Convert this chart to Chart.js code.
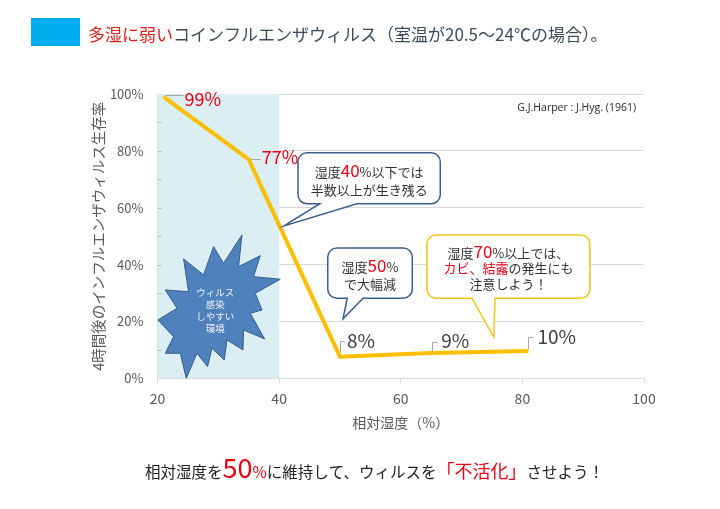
<!DOCTYPE html>
<html><head><meta charset="utf-8">
<script src="https://cdn.jsdelivr.net/npm/chart.js@4/dist/chart.umd.min.js"></script>
<style>html,body{margin:0;padding:0;background:#fff;overflow:hidden}#wrap{position:relative;width:720px;height:509px}</style>
</head><body><div id="wrap"><canvas id="c"></canvas></div>
<script>
// ---- data ----
const humidity = [21, 35, 50, 65, 81];
const survival = [99, 77, 7.6, 8.9, 9.6];
const pointLabels = ['99%', '77%', '8%', '9%', '10%'];
const xTickValues = [20, 40, 60, 80, 100];
const yTickValues = [0, 20, 40, 60, 80, 100];
const xTitle = '相対湿度（%）';
const yTitle = '4時間後のインフルエンザウィルス生存率';
const bandRange = [20, 40];
const citation = 'G.J.Harper : J.Hyg. (1961)';

const JP = "'Noto Sans CJK JP','Noto Sans',sans-serif";
const RED = '#e60012';
const DARK = '#333333';

function fnt(size, weight){ return (weight||'normal') + ' ' + size + 'px ' + JP; }
function runsWidth(ctx, runs){ let w=0; for(const r of runs){ ctx.font=fnt(r.s, r.w); w+=ctx.measureText(r.t).width; } return w; }
function drawRuns(ctx, runs, x, y, align){
  let w = runsWidth(ctx, runs);
  let cx = align==='center' ? x - w/2 : (align==='right' ? x - w : x);
  ctx.textAlign='left'; ctx.textBaseline='alphabetic';
  for(const r of runs){ ctx.font=fnt(r.s, r.w); ctx.fillStyle=r.c; ctx.fillText(r.t, cx, y); cx += ctx.measureText(r.t).width; }
}

// label placement (offsets from the data point in px)
const labelStyle = [
  {dx:21, dy:9, c:RED, s:18, lead:[[1,-2],[19,-2]]},
  {dx:13, dy:5, c:RED, s:18, lead:[[1,0],[11,0]]},
  {dx:7, dy:-8.5, c:'#404040', s:19, lead:[[0,-5],[0,-16],[4,-16]]},
  {dx:10, dy:-5, c:'#404040', s:19, lead:[[1,-2],[1,-11],[6,-11]]},
  {dx:9, dy:-7.5, c:'#404040', s:19, lead:[[0,-2],[0,-14],[5,-14]]}
];

const starPts = [[-57.3,15],[-38.3,3.3],[-50,-15],[-26.7,-13.3],[-31.7,-46],[-11.7,-30],[-1.7,-58.3],[8.3,-41.7],[26.7,-70],[23.3,-38.3],[45,-49.3],[38.3,-28.3],[65,-25.7],[40,-11.7],[46.7,5],[35,8.3],[49.3,34],[28.3,25],[27.7,45],[11.7,35],[9,55],[-3.3,43.3],[-7.7,61.7],[-18.3,48.3],[-29,73.3],[-35,48.3],[-50,48.3],[-41.7,31.7]];

const callouts = [
  {box:[43.1,66.5,79.3,61.4], tail:[46.7,52.8], tip:[40.8,53.6], stroke:'#3b5f8c',
   lines:[{runs:[{t:'湿度',c:DARK,s:13},{t:'40',c:RED,s:17},{t:'%以下では',c:DARK,s:13}]},
          {runs:[{t:'半数以上が生き残る',c:DARK,s:13}]}], lh:[177,195]},
  {box:[48.0,61.9,45.8,28.2], tail:[51.2,53.8], tip:[50.5,20.9], stroke:'#3b5f8c',
   lines:[{runs:[{t:'湿度',c:DARK,s:13},{t:'50',c:RED,s:17},{t:'%',c:DARK,s:13}]},
          {runs:[{t:'で大幅減',c:DARK,s:13}]}], lh:[272,289]},
  {box:[64.3,91.1,50.4,28.2], tail:[71.7,75.5], tip:[75.3,14.5], stroke:'#f5c21b',
   lines:[{runs:[{t:'湿度',c:DARK,s:13},{t:'70',c:RED,s:17},{t:'%以上では、',c:DARK,s:13}]},
          {runs:[{t:'カビ、結露',c:RED,s:13},{t:'の発生にも',c:DARK,s:13}]},
          {runs:[{t:'注意しよう！',c:DARK,s:13}]}], lh:[258,273,289]}
];

const decor = {
  id:'decor',
  beforeDatasetsDraw(chart){
    const {ctx, chartArea:a, scales:{x,y}} = chart;
    ctx.save();
    ctx.fillStyle='#daeef3';
    const bx1=x.getPixelForValue(bandRange[0]), bx2=x.getPixelForValue(bandRange[1]);
    ctx.fillRect(bx1, a.top, bx2-bx1, a.bottom-a.top);
    ctx.strokeStyle='#bfbfbf'; ctx.lineWidth=1;
    for(let v=10; v<100; v+=10){ const py=Math.round(y.getPixelForValue(v))+0.5; ctx.beginPath(); ctx.moveTo(a.left, py); ctx.lineTo(a.left+4, py); ctx.stroke(); }
    const sx=x.getPixelForValue(29.5), sy=y.getPixelForValue(25.8);
    ctx.beginPath();
    starPts.forEach((p,i)=>{ i? ctx.lineTo(sx+p[0], sy+p[1]) : ctx.moveTo(sx+p[0], sy+p[1]); });
    ctx.closePath();
    ctx.fillStyle='#4f81bd'; ctx.fill();
    ctx.strokeStyle='#385d8a'; ctx.lineWidth=1; ctx.stroke();
    ctx.fillStyle='rgba(255,255,255,0.92)'; ctx.font=fnt(9.5); ctx.textAlign='center'; ctx.textBaseline='middle';
    ['ウィルス','感染','しやすい','環境'].forEach((t,i)=>ctx.fillText(t, sx, sy-13+i*12));
    ctx.restore();
  },
  afterDatasetsDraw(chart){
    const {ctx, scales:{x,y}} = chart;
    ctx.save();
    const meta = chart.getDatasetMeta(0);
    meta.data.forEach((pt,i)=>{
      const st = labelStyle[i];
      ctx.strokeStyle='#a6a6a6'; ctx.lineWidth=1;
      ctx.beginPath();
      st.lead.forEach((l,j)=>{ const X=Math.round(pt.x+l[0])+0.5, Y=Math.round(pt.y+l[1])+0.5; j? ctx.lineTo(X,Y):ctx.moveTo(X,Y); });
      ctx.stroke();
      ctx.font=fnt(st.s); ctx.fillStyle=st.c; ctx.textAlign='left'; ctx.textBaseline='alphabetic';
      ctx.fillText(pointLabels[i], pt.x+st.dx, pt.y+st.dy);
    });
    callouts.forEach(co=>{
      const L=x.getPixelForValue(co.box[0]), R=x.getPixelForValue(co.box[1]);
      const T=y.getPixelForValue(co.box[2]), B=y.getPixelForValue(co.box[3]);
      const t1=x.getPixelForValue(co.tail[0]), t2=x.getPixelForValue(co.tail[1]);
      const tx=x.getPixelForValue(co.tip[0]), ty=y.getPixelForValue(co.tip[1]);
      const r=9;
      ctx.beginPath();
      ctx.moveTo(L+r,T); ctx.lineTo(R-r,T); ctx.arcTo(R,T,R,T+r,r);
      ctx.lineTo(R,B-r); ctx.arcTo(R,B,R-r,B,r);
      ctx.lineTo(t2,B); ctx.lineTo(tx,ty); ctx.lineTo(t1,B);
      ctx.lineTo(L+r,B); ctx.arcTo(L,B,L,B-r,r);
      ctx.lineTo(L,T+r); ctx.arcTo(L,T,L+r,T,r); ctx.closePath();
      ctx.fillStyle='#ffffff'; ctx.fill();
      ctx.strokeStyle=co.stroke; ctx.lineWidth=1.5; ctx.stroke();
      const cx=(L+R)/2;
      co.lines.forEach((ln,i)=>drawRuns(ctx, ln.runs, cx, co.lh[i], 'center'));
    });
    ctx.restore();
  },
  afterDraw(chart){
    const {ctx} = chart;
    ctx.save();
    ctx.fillStyle='#00aeef'; ctx.fillRect(31,18,49,28);
    drawRuns(ctx, [{t:'多湿に弱い',c:'#e0201c',s:17},{t:'コインフルエンザウィルス（室温が20.5～24℃の場合）。',c:'#3b4b5b',s:17}], 88, 41, 'left');
    ctx.font="10.5px 'Open Sans',sans-serif"; ctx.fillStyle='#262626'; ctx.textAlign='right'; ctx.textBaseline='middle';
    ctx.fillText(citation, 636, 108);
    drawRuns(ctx, [{t:'相対湿度を',c:'#222',s:15.5},{t:'50',c:RED,s:27},{t:'%',c:RED,s:15.5},{t:'に維持して、ウィルスを',c:'#222',s:15.5},{t:'「不活化」',c:RED,s:18},{t:'させよう！',c:'#222',s:15.5}], 145, 478, 'left');
    ctx.restore();
  }
};

new Chart(document.getElementById('c'), {
  type:'scatter',
  data:{ datasets:[{
    data: humidity.map((h,i)=>({x:h, y:survival[i]})),
    showLine:true, borderColor:'#fbbe00', borderWidth:4, pointRadius:0, tension:0, fill:false,
    borderCapStyle:'butt', borderJoinStyle:'miter'
  }]},
  options:{
    responsive:true, maintainAspectRatio:false, animation:false, devicePixelRatio:1,
    layout:{padding:{top:94,right:76,bottom:74,left:86}},
    plugins:{legend:{display:false}, tooltip:{enabled:false}},
    scales:{
      x:{ type:'linear', min:xTickValues[0], max:xTickValues[xTickValues.length-1],
        afterBuildTicks(s){ s.ticks = xTickValues.map(v=>({value:v})); },
        afterFit(s){ s.height = 56.7; },
        grid:{drawOnChartArea:false, drawTicks:true, tickLength:5, color:'#d9d9d9'},
        border:{color:'#d9d9d9'},
        ticks:{color:'#595959', font:{family:JP, size:14}, padding:7, callback:v=>String(v), maxRotation:0},
        title:{display:true, text:xTitle, color:'#595959', font:{family:JP, size:14}, padding:{top:4,bottom:4}}
      },
      y:{ type:'linear', min:yTickValues[0], max:yTickValues[yTickValues.length-1],
        afterBuildTicks(s){ s.ticks = yTickValues.map(v=>({value:v})); },
        afterFit(s){ s.width = 71.5; },
        grid:{color:'#d9d9d9', drawTicks:false},
        border:{color:'#d9d9d9'},
        ticks:{color:'#595959', font:{family:JP, size:13}, padding:14, callback:v=>v+'%'},
        title:{display:true, text:yTitle, color:'#595959', font:{family:JP, size:14.5}, padding:{top:4,bottom:4}}
      }
    }
  },
  plugins:[decor]
});
</script></body></html>
